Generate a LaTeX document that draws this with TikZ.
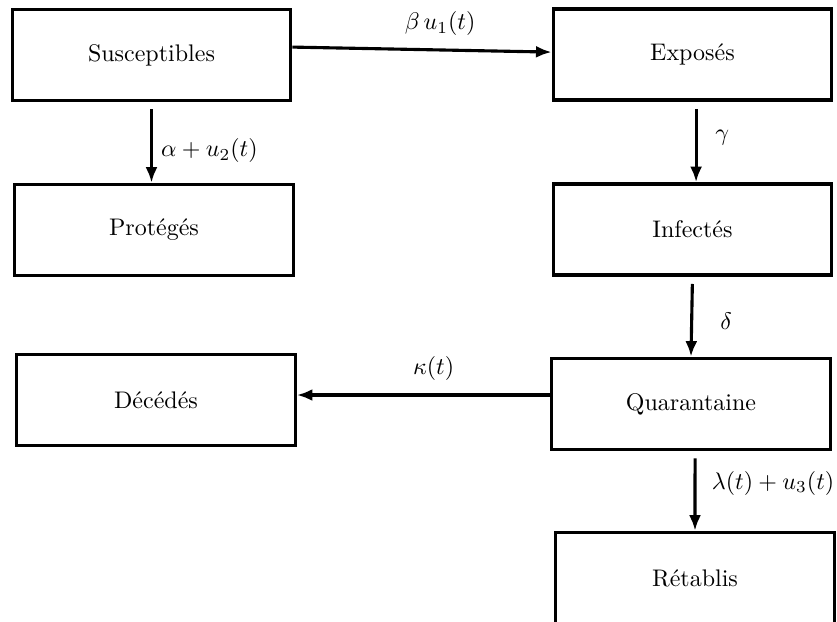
\documentclass[tikz,border=0pt]{standalone}
\usetikzlibrary{arrows.meta}

\begin{document}
\begin{tikzpicture}
    [x=0.4167pt, y=-0.4167pt,
     >={Latex[length=6.5pt,width=5pt]},  % filled arrow heads
     compartment/.style={shape=rectangle, draw=black, fill=white, minimum width=116pt, minimum height=38pt, line width=1.4pt},
     flow/.style={->, line width=1.3pt},
    ]
\useasboundingbox (0,0) rectangle (837,621);

\node[compartment] (node_sus) at (151.5,55) {Susceptibles};
\node[compartment] (node_exp) at (692.5,54.5) {Exposés};
\node[compartment] (node_pro) at (154,230) {Protégés};
\node[compartment] (node_inf) at (692.5,229.5) {Infectés};
\node[compartment] (node_dec) at (156,400) {Décédés};
\node[compartment] (node_qua) at (691,404) {Quarantaine};
\node[compartment] (node_ret) at (695,578) {Rétablis};

\draw[flow] ([yshift=3.3pt]node_sus.east) -- ([yshift=1pt]node_exp.west) node[pos=0.57, above=2pt] {$\beta\,u_1(t)$};
\draw[flow, shorten <=3pt] (node_sus.south) -- (node_sus.south |- node_pro.north) node[pos=0.6, right] {$\alpha + u_2(t)$};
\draw[flow, shorten <=3pt] ([xshift=1.5pt]node_exp.south) -- ([xshift=1.5pt]node_exp.south |- node_inf.north) node[pos=0.45, right=4pt] {$\gamma$};
\draw[flow, shorten <=3pt] (node_inf.south) -- (node_qua.north) node[pos=0.55, right=8pt] {$\delta$};
\draw[flow] ([yshift=3.75pt]node_qua.west) -- ([yshift=3.75pt]node_qua.west -| node_dec.east) node[pos=0.46, above=2pt] {$\kappa(t)$};
\draw[flow, shorten <=3pt] ([xshift=1.7pt]node_qua.south) -- (node_ret.north) node[pos=0.4, right=3pt] {$\lambda(t) + u_3(t)$};

\end{tikzpicture}
\end{document}
